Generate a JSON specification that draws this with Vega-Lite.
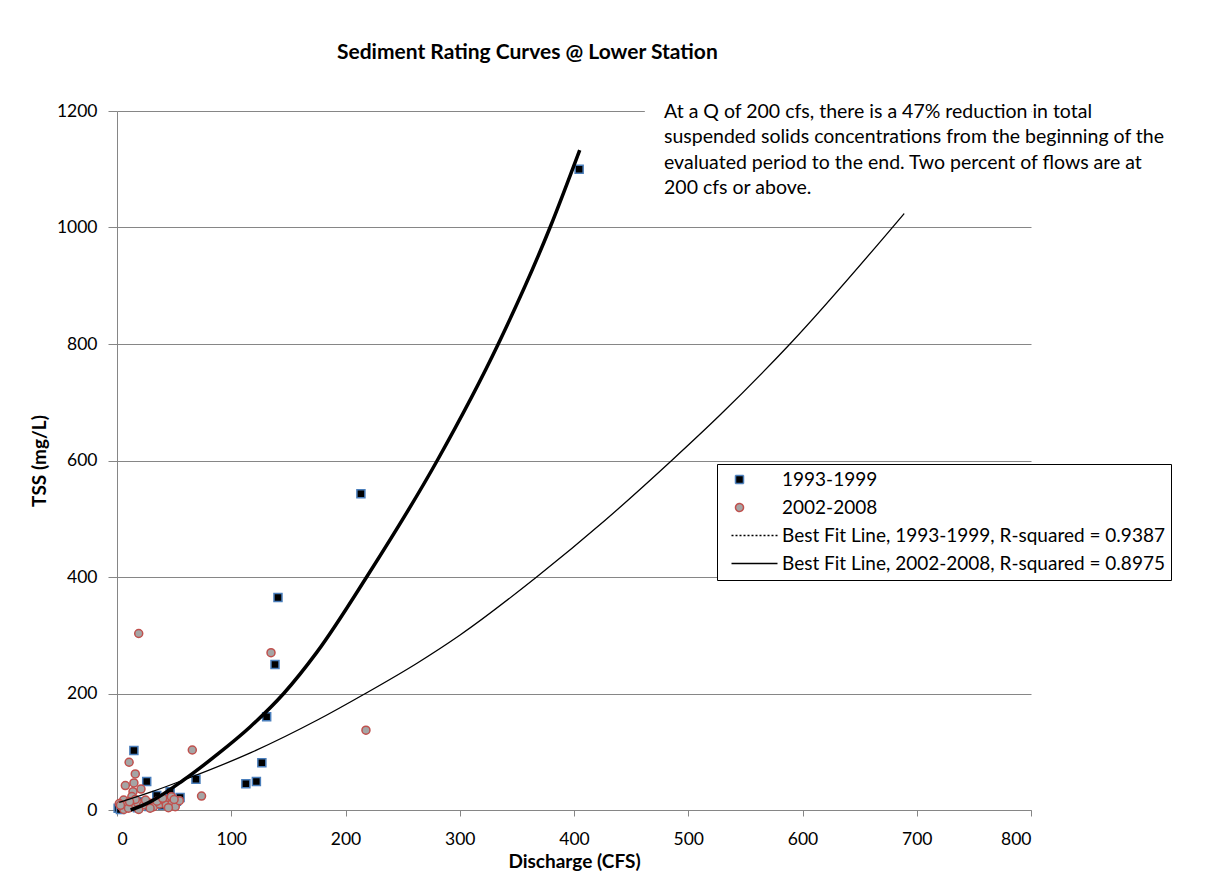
{
  "$schema": "https://vega.github.io/schema/vega-lite/v6.json",
  "width": 914,
  "height": 699,
  "autosize": {"type": "none"},
  "padding": {"left": 117, "top": 111, "right": 174, "bottom": 62},
  "background": "white",
  "config": {"view": {"stroke": null}, "font": "Lato"},
  "title": {
    "text": "Sediment Rating Curves @ Lower Station",
    "anchor": "start",
    "frame": "group",
    "dx": 220,
    "offset": 11,
    "font": "Lato",
    "fontSize": 21,
    "fontWeight": "bold",
    "color": "#000000",
    "baseline": "middle"
  },
  "datasets": {
    "pts": [
      {"Q": 404.5, "TSS": 1100, "series": "1993-1999"},
      {"Q": 213.5, "TSS": 543, "series": "1993-1999"},
      {"Q": 140.9, "TSS": 365, "series": "1993-1999"},
      {"Q": 138.3, "TSS": 250, "series": "1993-1999"},
      {"Q": 131, "TSS": 160, "series": "1993-1999"},
      {"Q": 126.8, "TSS": 81, "series": "1993-1999"},
      {"Q": 122, "TSS": 49, "series": "1993-1999"},
      {"Q": 112.8, "TSS": 45, "series": "1993-1999"},
      {"Q": 69.1, "TSS": 53, "series": "1993-1999"},
      {"Q": 14.8, "TSS": 102, "series": "1993-1999"},
      {"Q": 26, "TSS": 49, "series": "1993-1999"},
      {"Q": 55.2, "TSS": 21.5, "series": "1993-1999"},
      {"Q": 46.5, "TSS": 31.5, "series": "1993-1999"},
      {"Q": 34.8, "TSS": 25, "series": "1993-1999"},
      {"Q": 45, "TSS": 18, "series": "1993-1999"},
      {"Q": 23.4, "TSS": 14, "series": "1993-1999"},
      {"Q": 1, "TSS": 3, "series": "1993-1999"},
      {"Q": 8, "TSS": 8, "series": "1993-1999"},
      {"Q": 15, "TSS": 12, "series": "1993-1999"},
      {"Q": 30, "TSS": 10, "series": "1993-1999"},
      {"Q": 40, "TSS": 8, "series": "1993-1999"},
      {"Q": 52, "TSS": 15, "series": "1993-1999"},
      {"Q": 3, "TSS": 1, "series": "1993-1999"},
      {"Q": 18, "TSS": 4, "series": "1993-1999"},
      {"Q": 28, "TSS": 6, "series": "1993-1999"},
      {"Q": 19, "TSS": 303, "series": "2002-2008"},
      {"Q": 134.8, "TSS": 270, "series": "2002-2008"},
      {"Q": 217.9, "TSS": 137, "series": "2002-2008"},
      {"Q": 65.9, "TSS": 103, "series": "2002-2008"},
      {"Q": 74, "TSS": 24, "series": "2002-2008"},
      {"Q": 10.6, "TSS": 82, "series": "2002-2008"},
      {"Q": 16, "TSS": 62, "series": "2002-2008"},
      {"Q": 7.3, "TSS": 42, "series": "2002-2008"},
      {"Q": 14.8, "TSS": 46.5, "series": "2002-2008"},
      {"Q": 14, "TSS": 31.5, "series": "2002-2008"},
      {"Q": 21, "TSS": 36, "series": "2002-2008"},
      {"Q": 13, "TSS": 23, "series": "2002-2008"},
      {"Q": 5.8, "TSS": 17, "series": "2002-2008"},
      {"Q": 2, "TSS": 11, "series": "2002-2008"},
      {"Q": 4.4, "TSS": 5.7, "series": "2002-2008"},
      {"Q": 8.8, "TSS": 10, "series": "2002-2008"},
      {"Q": 13, "TSS": 8.6, "series": "2002-2008"},
      {"Q": 18, "TSS": 12.6, "series": "2002-2008"},
      {"Q": 23.3, "TSS": 8.6, "series": "2002-2008"},
      {"Q": 29.2, "TSS": 11.4, "series": "2002-2008"},
      {"Q": 32, "TSS": 5.7, "series": "2002-2008"},
      {"Q": 37.3, "TSS": 10.3, "series": "2002-2008"},
      {"Q": 42.3, "TSS": 14.3, "series": "2002-2008"},
      {"Q": 43.2, "TSS": 8.6, "series": "2002-2008"},
      {"Q": 47.6, "TSS": 22.9, "series": "2002-2008"},
      {"Q": 48.1, "TSS": 10.3, "series": "2002-2008"},
      {"Q": 51, "TSS": 5.7, "series": "2002-2008"},
      {"Q": 54.6, "TSS": 16, "series": "2002-2008"},
      {"Q": 19, "TSS": 1, "series": "2002-2008"},
      {"Q": 6, "TSS": 1, "series": "2002-2008"},
      {"Q": 29, "TSS": 3, "series": "2002-2008"},
      {"Q": 10, "TSS": 3, "series": "2002-2008"},
      {"Q": 25, "TSS": 17, "series": "2002-2008"},
      {"Q": 35, "TSS": 15, "series": "2002-2008"},
      {"Q": 40, "TSS": 20, "series": "2002-2008"},
      {"Q": 45, "TSS": 4, "series": "2002-2008"},
      {"Q": 16, "TSS": 18, "series": "2002-2008"},
      {"Q": 11, "TSS": 14, "series": "2002-2008"},
      {"Q": 3, "TSS": 8, "series": "2002-2008"},
      {"Q": 50, "TSS": 18, "series": "2002-2008"}
    ],
    "fits": [
      {"Q": 12, "TSS": 0, "series": "Best Fit Line, 1993-1999, R-squared = 0.9387"},
      {"Q": 29, "TSS": 14, "series": "Best Fit Line, 1993-1999, R-squared = 0.9387"},
      {"Q": 58.3, "TSS": 51.5, "series": "Best Fit Line, 1993-1999, R-squared = 0.9387"},
      {"Q": 87.5, "TSS": 95, "series": "Best Fit Line, 1993-1999, R-squared = 0.9387"},
      {"Q": 116.7, "TSS": 143, "series": "Best Fit Line, 1993-1999, R-squared = 0.9387"},
      {"Q": 145.9, "TSS": 200, "series": "Best Fit Line, 1993-1999, R-squared = 0.9387"},
      {"Q": 175, "TSS": 271, "series": "Best Fit Line, 1993-1999, R-squared = 0.9387"},
      {"Q": 218.5, "TSS": 400, "series": "Best Fit Line, 1993-1999, R-squared = 0.9387"},
      {"Q": 280.3, "TSS": 600, "series": "Best Fit Line, 1993-1999, R-squared = 0.9387"},
      {"Q": 333.7, "TSS": 800, "series": "Best Fit Line, 1993-1999, R-squared = 0.9387"},
      {"Q": 379, "TSS": 1000, "series": "Best Fit Line, 1993-1999, R-squared = 0.9387"},
      {"Q": 405, "TSS": 1133, "series": "Best Fit Line, 1993-1999, R-squared = 0.9387"},
      {"Q": 2, "TSS": 13, "series": "Best Fit Line, 2002-2008, R-squared = 0.8975"},
      {"Q": 30, "TSS": 31, "series": "Best Fit Line, 2002-2008, R-squared = 0.8975"},
      {"Q": 58.3, "TSS": 51.5, "series": "Best Fit Line, 2002-2008, R-squared = 0.8975"},
      {"Q": 116.7, "TSS": 98, "series": "Best Fit Line, 2002-2008, R-squared = 0.8975"},
      {"Q": 175, "TSS": 154, "series": "Best Fit Line, 2002-2008, R-squared = 0.8975"},
      {"Q": 217.4, "TSS": 200, "series": "Best Fit Line, 2002-2008, R-squared = 0.8975"},
      {"Q": 262.6, "TSS": 252, "series": "Best Fit Line, 2002-2008, R-squared = 0.8975"},
      {"Q": 300, "TSS": 300, "series": "Best Fit Line, 2002-2008, R-squared = 0.8975"},
      {"Q": 367.3, "TSS": 400, "series": "Best Fit Line, 2002-2008, R-squared = 0.8975"},
      {"Q": 427, "TSS": 497, "series": "Best Fit Line, 2002-2008, R-squared = 0.8975"},
      {"Q": 485.5, "TSS": 600, "series": "Best Fit Line, 2002-2008, R-squared = 0.8975"},
      {"Q": 527.8, "TSS": 678, "series": "Best Fit Line, 2002-2008, R-squared = 0.8975"},
      {"Q": 589, "TSS": 800, "series": "Best Fit Line, 2002-2008, R-squared = 0.8975"},
      {"Q": 689, "TSS": 1024, "series": "Best Fit Line, 2002-2008, R-squared = 0.8975"}
    ]
  },
  "layer": [
    {
      "data": {"values": [{}]},
      "mark": {"type": "rect", "fill": "white", "stroke": null},
      "encoding": {
        "x": {"datum": 462, "type": "quantitative"},
        "x2": {"datum": 800},
        "y": {"datum": 1150, "type": "quantitative"},
        "y2": {"datum": 1245}
      }
    },
    {
      "data": {"name": "pts"},
      "transform": [{"filter": "datum.series == '1993-1999'"}],
      "mark": {"type": "point", "shape": "square", "filled": true, "size": 64, "stroke": "#4a7ebb", "strokeWidth": 1.5, "opacity": 1},
      "encoding": {
        "x": {"field": "Q", "type": "quantitative", "scale": {"domain": [0, 800], "nice": false},
          "axis": {
            "orient": "bottom",
            "values": [0, 100, 200, 300, 400, 500, 600, 700, 800],
            "grid": false,
            "title": "Discharge (CFS)",
            "domainColor": "#868686",
            "tickColor": "#868686",
            "tickSize": 6,
            "labelFont": "Lato",
            "labelFontSize": 17.5,
            "labelColor": "#000000",
            "labelPadding": 14,
            "titleFont": "Lato",
            "titleFontSize": 19,
            "titleFontWeight": "bold",
            "titleColor": "#000000",
            "titlePadding": 5
          }
        },
        "y": {"field": "TSS", "type": "quantitative", "scale": {"domain": [0, 1200], "nice": false},
          "axis": {
            "orient": "left",
            "values": [0, 200, 400, 600, 800, 1000, 1200],
            "format": "d",
            "grid": true,
            "gridColor": "#868686",
            "gridWidth": 1,
            "title": "TSS (mg/L)",
            "domainColor": "#868686",
            "tickColor": "#868686",
            "tickSize": 9,
            "labelFont": "Lato",
            "labelFontSize": 17.5,
            "labelColor": "#000000",
            "labelPadding": 11,
            "titleFont": "Lato",
            "titleFontSize": 19,
            "titleFontWeight": "bold",
            "titleColor": "#000000",
            "titlePadding": 7
          }
        },
        "color": {
          "field": "series",
          "type": "nominal",
          "scale": {
            "domain": ["1993-1999", "2002-2008", "Best Fit Line, 1993-1999, R-squared = 0.9387", "Best Fit Line, 2002-2008, R-squared = 0.8975"],
            "range": ["#000000", "#a5a5a5", "#000000", "#000000"]
          },
          "legend": {
            "title": null,
            "orient": "none",
            "legendX": 600,
            "legendY": 353,
            "direction": "vertical",
            "strokeColor": "#000000",
            "fillColor": "#ffffff",
            "padding": 6,
            "labelFont": "Lato",
            "labelFontSize": 19,
            "labelColor": "#000000",
            "labelLimit": 600,
            "symbolSize": 64,
            "symbolStrokeWidth": 1.5,
            "symbolOffset": 7,
            "rowPadding": 8,
            "labelOffset": 33,
            "symbolType": {"expr": "datum.value == '1993-1999' ? 'square' : datum.value == '2002-2008' ? 'circle' : 'M-2,0L9.5,0'"},
            "symbolStrokeColor": {"expr": "datum.value == '1993-1999' ? '#4a7ebb' : datum.value == '2002-2008' ? '#c0504d' : '#000000'"},
            "symbolDash": {"expr": "datum.value == 'Best Fit Line, 1993-1999, R-squared = 0.9387' ? [2, 2] : [1, 0]"},
            "symbolOpacity": 1
          }
        }
      }
    },
    {
      "data": {"name": "pts"},
      "transform": [{"filter": "datum.series == '2002-2008'"}],
      "mark": {"type": "point", "shape": "circle", "filled": true, "size": 64, "stroke": "#c0504d", "strokeWidth": 1.5, "opacity": 1},
      "encoding": {
        "x": {"field": "Q", "type": "quantitative"},
        "y": {"field": "TSS", "type": "quantitative"},
        "color": {
          "field": "series",
          "type": "nominal",
          "legend": {
            "title": null,
            "orient": "none",
            "legendX": 600,
            "legendY": 353,
            "direction": "vertical",
            "strokeColor": "#000000",
            "fillColor": "#ffffff",
            "padding": 6,
            "labelFont": "Lato",
            "labelFontSize": 19,
            "labelColor": "#000000",
            "labelLimit": 600,
            "symbolSize": 64,
            "symbolStrokeWidth": 1.5,
            "symbolOffset": 7,
            "rowPadding": 8,
            "labelOffset": 33,
            "symbolType": {"expr": "datum.value == '1993-1999' ? 'square' : datum.value == '2002-2008' ? 'circle' : 'M-2,0L9.5,0'"},
            "symbolStrokeColor": {"expr": "datum.value == '1993-1999' ? '#4a7ebb' : datum.value == '2002-2008' ? '#c0504d' : '#000000'"},
            "symbolDash": {"expr": "datum.value == 'Best Fit Line, 1993-1999, R-squared = 0.9387' ? [2, 2] : [1, 0]"},
            "symbolOpacity": 1
          }
        }
      }
    },
    {
      "data": {"name": "fits"},
      "transform": [{"filter": "datum.series == 'Best Fit Line, 2002-2008, R-squared = 0.8975'"}],
      "mark": {"type": "line", "strokeWidth": 1.3, "interpolate": "monotone", "stroke": "#000000"},
      "encoding": {
        "x": {"field": "Q", "type": "quantitative"},
        "y": {"field": "TSS", "type": "quantitative"}
      }
    },
    {
      "data": {"name": "fits"},
      "transform": [{"filter": "datum.series == 'Best Fit Line, 1993-1999, R-squared = 0.9387'"}],
      "mark": {"type": "line", "strokeWidth": 3.5, "interpolate": "monotone", "stroke": "#000000"},
      "encoding": {
        "x": {"field": "Q", "type": "quantitative"},
        "y": {"field": "TSS", "type": "quantitative"}
      }
    },
    {
      "data": {"values": [{}]},
      "mark": {
        "type": "text",
        "text": ["At a Q of 200 cfs, there is a 47% reduction in total", "suspended solids concentrations from the beginning of the", "evaluated period to the end.  Two percent of flows are at", "200 cfs or above."],
        "align": "left",
        "baseline": "alphabetic",
        "font": "Lato",
        "fontSize": 19.5,
        "lineHeight": 25.5,
        "color": "#000000"
      },
      "encoding": {
        "x": {"datum": 478.8},
        "y": {"datum": 1188}
      }
    }
  ]
}
